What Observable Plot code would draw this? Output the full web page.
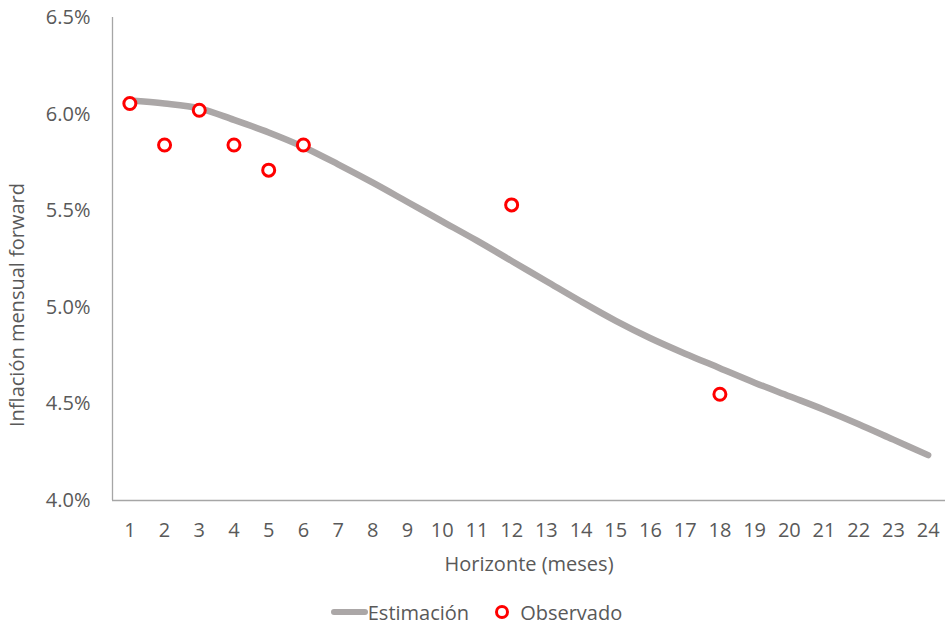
<!DOCTYPE html>
<html>
<head>
<meta charset="utf-8">
<script src="https://cdn.jsdelivr.net/npm/d3@7"></script>
<script src="https://cdn.jsdelivr.net/npm/@observablehq/plot@0.6"></script>
<style>
  body { margin: 0; background: #fff; font-family: "Open Sans", sans-serif; }
  #chart { width: 947px; }
  .legend { display: flex; justify-content: center; align-items: center; height: 44px; color: #595959; font-size: 20px; font-family: "Open Sans", sans-serif; padding-left: 6px; }
  .legend .item { display: flex; align-items: center; margin: 0 13px; }
  .legend .swline { width: 37px; height: 6px; background: #ABA7A7; border-radius: 3px; margin-right: 0px; }
  .legend .swdot { width: 8px; height: 8px; border: 3px solid #FF0000; border-radius: 50%; margin-right: 11px; }
</style>
</head>
<body>
<div id="chart"></div>
<script>
// Data
const horizons = [1,2,3,4,5,6,7,8,9,10,11,12,13,14,15,16,17,18,19,20,21,22,23,24];
const estimacion = [6.07,6.055,6.03,5.97,5.905,5.83,5.74,5.645,5.545,5.445,5.345,5.24,5.135,5.03,4.93,4.84,4.76,4.685,4.61,4.54,4.47,4.395,4.315,4.235];
const obsHorizons = [1,2,3,4,5,6,12,18];
const observado = [6.055,5.84,6.02,5.84,5.71,5.84,5.53,4.55];
const yTicks = [4.0,4.5,5.0,5.5,6.0,6.5];
const seriesNames = ["Estimación","Observado"];

const estData = horizons.map((h,i) => ({h, v: estimacion[i]}));
const obsData = obsHorizons.map((h,i) => ({h, v: observado[i]}));

const textColor = "#595959";
const axisColor = "#A6A6A6";

const chart = Plot.plot({
  width: 947,
  height: 590,
  marginLeft: 112,
  marginRight: 2,
  marginTop: 17,
  marginBottom: 90,
  style: { fontFamily: "Open Sans, sans-serif", fontSize: "20px", color: textColor, background: "#fff" },
  x: { domain: [0.5, 24.5] },
  y: { domain: [4.0, 6.5] },
  marks: [
    Plot.axisX({ ticks: horizons, tickSize: 0, tickPadding: 22, tickFormat: d => String(d), fill: textColor, fontSize: 20,
                 label: "Horizonte (meses)", labelAnchor: "center", labelArrow: "none", labelOffset: 70 }),
    Plot.axisY({ ticks: yTicks, tickSize: 0, tickPadding: 22, tickFormat: d => d.toFixed(1) + "%", fill: textColor, fontSize: 20, label: null }),
    Plot.text(["Inflación mensual forward"], { text: d => d, frameAnchor: "left", textAnchor: "middle", dx: -95, dy: 46, rotate: -90, fill: textColor, fontSize: 20 }),
    Plot.ruleX([0.5], { stroke: axisColor, strokeWidth: 1.3 }),
    Plot.ruleY([4.0], { stroke: axisColor, strokeWidth: 1.3 }),
    Plot.line(estData, { x: "h", y: "v", stroke: "#ABA7A7", strokeWidth: 6.5, curve: "catmull-rom", strokeLinecap: "round" }),
    Plot.dot(obsData, { x: "h", y: "v", r: 6, stroke: "#FF0000", strokeWidth: 3, fill: "#fff" })
  ]
});
document.getElementById("chart").appendChild(chart);

const legend = document.createElement("div");
legend.className = "legend";
legend.innerHTML = `<div class="item"><span class="swline"></span><span>${seriesNames[0]}</span></div>` +
                   `<div class="item"><span class="swdot"></span><span>${seriesNames[1]}</span></div>`;
document.getElementById("chart").appendChild(legend);
</script>
</body>
</html>
